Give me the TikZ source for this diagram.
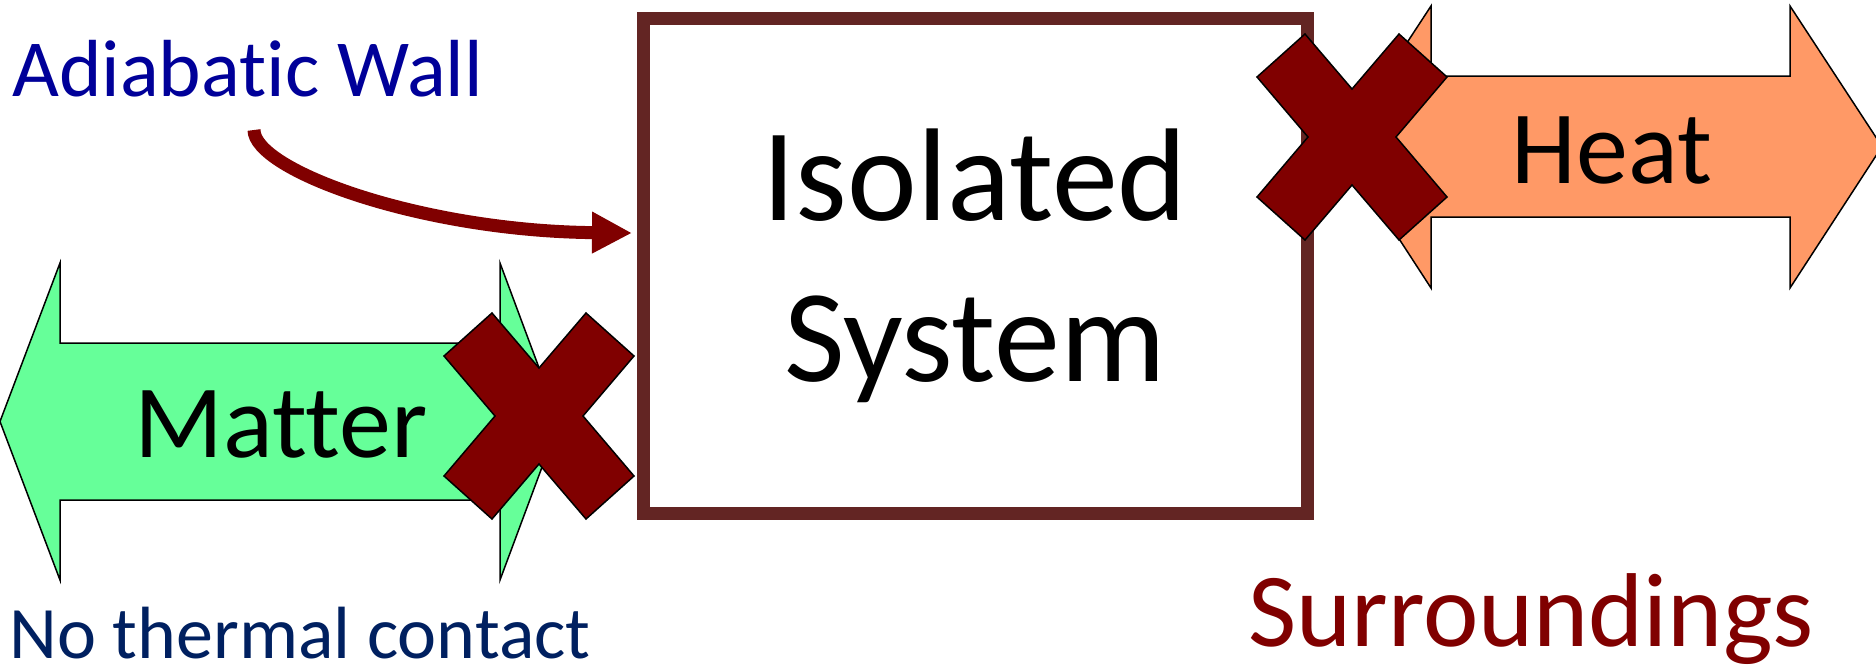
\documentclass[tikz,border=0pt]{standalone}
\usepackage{fontspec}
\setmainfont{Carlito}[Ligatures=NoCommon]
\usetikzlibrary{arrows.meta}
\definecolor{wallbrown}{RGB}{99,37,35}
\definecolor{darkred}{RGB}{128,0,0}
\definecolor{mattergreen}{RGB}{102,255,153}
\definecolor{heatorange}{RGB}{255,153,102}
\definecolor{labelblue}{RGB}{0,0,153}
\definecolor{navyblue}{RGB}{0,32,96}

\begin{document}
\begin{tikzpicture}[x=1pt,y=-1pt,
  flowarrow/.style={draw=black,line width=1.5pt,line join=miter},
  forbid/.style={fill=darkred,draw=black,line width=1.5pt,line join=miter},
  flowlabel/.style={font=\fontsize{104}{125}\selectfont,text=black,inner sep=0pt,anchor=base},
  caption/.style={inner sep=0pt,anchor=base west},
  forbidx/.pic={\draw[forbid] (0,-48) -- (47,-103) -- (95,-60) -- (44,0) -- (95,60)
      -- (47,103) -- (0,48) -- (-47,103) -- (-95,60) -- (-44,0) -- (-95,-60)
      -- (-47,-103) -- cycle;}
]
\useasboundingbox (0,0) rectangle (1876,664);

% the isolated system and its wall
\node[draw=wallbrown,line width=13pt,minimum width=664pt,minimum height=495pt,
      inner sep=0pt,align=center,font=\fontsize{132}{161}\selectfont]
  (sys) at (975,266) {Isolated\\System};

% matter exchange (blocked)
\draw[flowarrow,fill=mattergreen] (0,421.5) -- (60,263) -- (60,343) -- (500,343)
  -- (500,263) -- (559,421.5) -- (500,580) -- (500,500) -- (60,500) -- (60,580) -- cycle;
\node[flowlabel] (matter) at (281,457) {Matter};

% heat exchange (blocked)
\draw[flowarrow,fill=heatorange] (1339,146.5) -- (1431,6) -- (1431,76) -- (1790,76)
  -- (1790,6) -- (1882,146.5) -- (1790,288) -- (1790,217) -- (1431,217) -- (1431,288) -- cycle;
\node[flowlabel] (heat) at (1612,183) {Heat};

% crosses
\pic at (539,416) {forbidx};
\pic at (1352,137) {forbidx};

% labels
\node[caption,font=\fontsize{81}{97}\selectfont,text=labelblue] (adiabatic) at (12,96) {Adiabatic Wall};
\node[caption,font=\fontsize{74}{89}\selectfont,text=navyblue] (nocontact) at (9,658) {No thermal contact};
\node[caption,font=\fontsize{105}{126}\selectfont,text=darkred] (surr) at (1248,646) {Surroundings};

% pointer to the wall
\coordinate (bend) at (254,130);
\coordinate (walltip) at (632,233);
\draw[darkred,line width=13pt,-{Triangle[length=40pt,width=39pt]}]
  (bend) .. controls (254,170) and (420,231) .. (walltip);
\end{tikzpicture}
\end{document}
